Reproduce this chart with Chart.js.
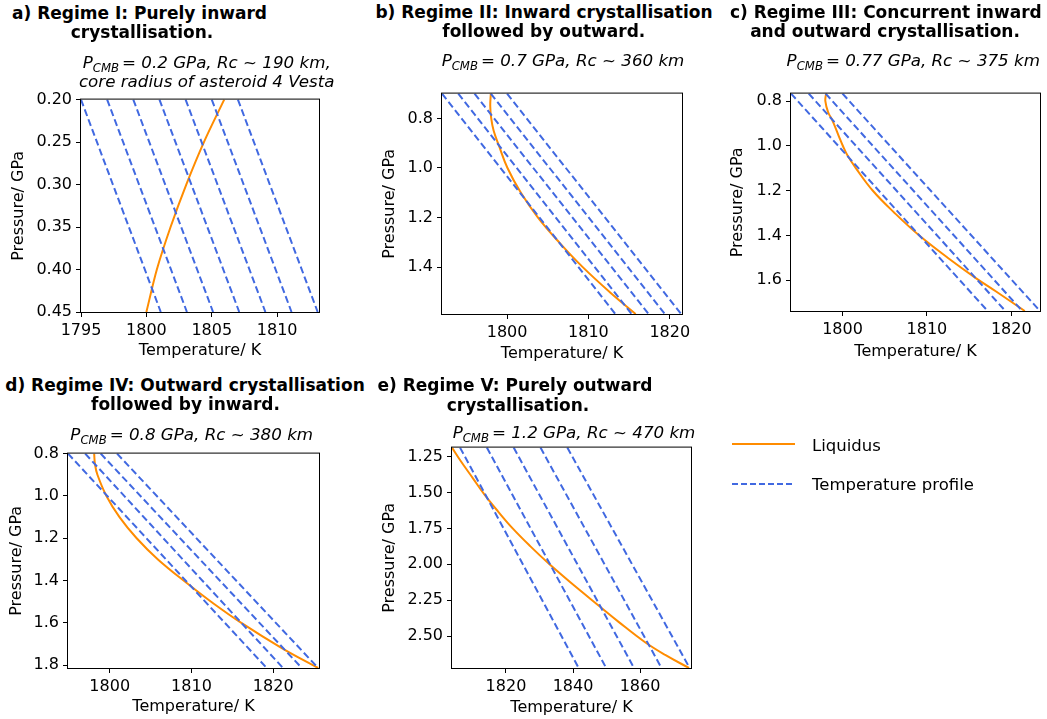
<!DOCTYPE html>
<html><head><meta charset="utf-8">
<script src="https://cdn.jsdelivr.net/npm/chart.js@4.4.1/dist/chart.umd.min.js"></script>
<style>
body{margin:0;background:#fff;width:1047px;height:719px;overflow:hidden;position:relative;font-family:"DejaVu Sans",sans-serif;color:#000}
canvas{position:absolute}
.t{position:absolute;width:500px;text-align:center;white-space:nowrap;font-weight:bold;font-size:17px;line-height:19px}
.s{position:absolute;width:500px;text-align:center;white-space:nowrap;font-style:italic;font-size:16.7px;line-height:19px}
.s sub{font-size:11.7px;vertical-align:-4px;line-height:0;margin-right:3px}
.lg{position:absolute;left:812px;font-size:16.5px;line-height:19px;white-space:nowrap}
</style></head>
<body>
<script>
// ---------- Data ----------
// a) Regime I
const A_LIQ_P = [0.20, 0.25, 0.30, 0.35, 0.40, 0.45];
const A_LIQ_T = [1805.95, 1804.4, 1803.05, 1801.85, 1800.8, 1800.0];
const A_PROF_P = [0.20, 0.45];
const A_PROF_T_TOP = [1795.0, 1797.0, 1799.0, 1801.0, 1803.0, 1805.0, 1807.0];
const A_PROF_T_BOT = [1801.1, 1803.1, 1805.1, 1807.1, 1809.1, 1811.1, 1813.1];
const A_XTICKS = [1795, 1800, 1805, 1810];
const A_YTICKS = ['0.20', '0.25', '0.30', '0.35', '0.40', '0.45'];

// b) Regime II
const B_LIQ_P = [0.70, 0.75, 0.80, 0.85, 0.91, 1.0, 1.1, 1.2, 1.3, 1.4, 1.5, 1.589];
const B_LIQ_T = [1798.0, 1797.93, 1798.05, 1798.35, 1799.0, 1800.05, 1801.7, 1803.8, 1806.4, 1809.3, 1812.6, 1815.8];
const B_PROF_P = [0.70, 1.589];
const B_PROF_T_TOP = [1792.0, 1794.0, 1796.0, 1798.0, 1800.0];
const B_PROF_T_BOT = [1813.3, 1815.3, 1817.4, 1819.4, 1821.4];
const B_XTICKS = [1800, 1810, 1820];
const B_YTICKS = ['0.8', '1.0', '1.2', '1.4'];

// c) Regime III
const C_LIQ_P = [0.766, 0.80, 0.85, 0.881, 0.95, 1.0, 1.043, 1.1, 1.2, 1.3, 1.4, 1.5, 1.59, 1.65, 1.737];
const C_LIQ_T = [1798.05, 1797.97, 1798.3, 1798.75, 1799.5, 1800.05, 1800.6, 1801.6, 1803.6, 1806.2, 1809.1, 1812.5, 1815.8, 1818.2, 1821.6];
const C_PROF_P = [0.766, 1.737];
const C_PROF_T_TOP = [1793.9, 1796.0, 1798.0, 1800.0];
const C_PROF_T_BOT = [1817.2, 1819.3, 1821.3, 1823.4];
const C_XTICKS = [1800, 1810, 1820];
const C_YTICKS = ['0.8', '1.0', '1.2', '1.4', '1.6'];

// d) Regime IV
const D_LIQ_P = [0.8, 0.85, 0.9, 1.0, 1.1, 1.2, 1.3, 1.42, 1.5, 1.6, 1.72, 1.813];
const D_LIQ_T = [1798.1, 1798.2, 1798.5, 1799.6, 1801.2, 1803.3, 1805.9, 1809.7, 1812.4, 1816.1, 1821.1, 1825.5];
const D_PROF_P = [0.8, 1.813];
const D_PROF_T_TOP = [1794.9, 1797.0, 1798.9, 1800.9];
const D_PROF_T_BOT = [1819.2, 1821.2, 1823.5, 1825.5];
const D_XTICKS = [1800, 1810, 1820];
const D_YTICKS = ['0.8', '1.0', '1.2', '1.4', '1.6', '1.8'];

// e) Regime V
const E_LIQ_P = [1.188, 1.285, 1.40, 1.515, 1.631, 1.75, 1.875, 2.0, 2.125, 2.29, 2.4, 2.54, 2.63, 2.721];
const E_LIQ_T = [1803.9, 1806.6, 1810.1, 1813.6, 1817.6, 1822.0, 1827.3, 1833.0, 1839.2, 1847.8, 1853.6, 1861.4, 1867.5, 1874.6];
const E_PROF_P = [1.188, 2.721];
const E_PROF_T_TOP = [1806.3, 1814.3, 1822.3, 1830.3, 1838.3];
const E_PROF_T_BOT = [1841.7, 1849.9, 1858.2, 1866.4, 1874.8];
const E_XTICKS = [1820, 1840, 1860];
const E_YTICKS = ['1.25', '1.50', '1.75', '2.00', '2.25', '2.50'];

const TITLES = [
  ['a) Regime I: Purely inward', 'crystallisation.'],
  ['b) Regime II: Inward crystallisation', 'followed by outward.'],
  ['c) Regime III: Concurrent inward', 'and outward crystallisation.'],
  ['d) Regime IV: Outward crystallisation', 'followed by inward.'],
  ['e) Regime V: Purely outward', 'crystallisation.']
];
const SUBTITLES = [
  ['= 0.2 GPa, Rc ~ 190 km,', 'core radius of asteroid 4 Vesta'],
  ['= 0.7 GPa, Rc ~ 360 km'],
  ['= 0.77 GPa, Rc ~ 375 km'],
  ['= 0.8 GPa, Rc ~ 380 km'],
  ['= 1.2 GPa, Rc ~ 470 km']
];
const LEGEND = ['Liquidus', 'Temperature profile'];

// ---------- Styles / layout ----------
const ORANGE = '#ff8c00', BLUE = '#4169e1';
Chart.defaults.font.family = '"DejaVu Sans", sans-serif';
Chart.defaults.color = '#000';

const frame = {
  id: 'frame',
  afterDraw(chart) {
    const {ctx, chartArea: a} = chart;
    ctx.save();
    ctx.strokeStyle = '#000';
    ctx.lineWidth = 1;
    ctx.strokeRect(a.left - 0.5, a.top - 0.5, a.right - a.left + 1, a.bottom - a.top + 1);
    ctx.restore();
  }
};

const PANELS = [
  {L:81, T:98, R:319, B:312, cl:0, pr:25, yt:18.5, xto:38.5, xmin:1795, xmax:1813.2, ymin:0.20, ymax:0.45,
   liqP:A_LIQ_P, liqT:A_LIQ_T, profP:A_PROF_P, topT:A_PROF_T_TOP, botT:A_PROF_T_BOT, xt:A_XTICKS, yl:A_YTICKS, ten:0.3},
  {L:442, T:92, R:682, B:314, cl:370, pr:25, yt:390, xto:39.5, xmin:1792.0, xmax:1821.5, ymin:0.70, ymax:1.589,
   liqP:B_LIQ_P, liqT:B_LIQ_T, profP:B_PROF_P, topT:B_PROF_T_TOP, botT:B_PROF_T_BOT, xt:B_XTICKS, yl:B_YTICKS, ten:0.4},
  {L:791, T:92, R:1040, B:311, cl:722, pr:7, yt:738.3, xto:40.5, xmin:1793.9, xmax:1823.4, ymin:0.766, ymax:1.737,
   liqP:C_LIQ_P, liqT:C_LIQ_T, profP:C_PROF_P, topT:C_PROF_T_TOP, botT:C_PROF_T_BOT, xt:C_XTICKS, yl:C_YTICKS, ten:0.4},
  {L:68, T:452, R:319, B:668, cl:0, pr:25, yt:17, xto:39, xmin:1794.9, xmax:1825.6, ymin:0.8, ymax:1.813,
   liqP:D_LIQ_P, liqT:D_LIQ_T, profP:D_PROF_P, topT:D_PROF_T_TOP, botT:D_PROF_T_BOT, xt:D_XTICKS, yl:D_YTICKS, ten:0.4},
  {L:452, T:446, R:691, B:668, cl:370, pr:25, yt:390, xto:40, xmin:1803.9, xmax:1875.2, ymin:1.188, ymax:2.721,
   liqP:E_LIQ_P, liqT:E_LIQ_T, profP:E_PROF_P, topT:E_PROF_T_TOP, botT:E_PROF_T_BOT, xt:E_XTICKS, yl:E_YTICKS, ten:0.4}
];

// title / subtitle placement: [center x, top]
const TITLE_POS = [
  [[139.5, 3.6], [142, 22.6]],
  [[544, 3.1], [543.8, 22.1]],
  [[885.8, 2.9], [885, 21.9]],
  [[185, 376.3], [185.5, 394.6]],
  [[515, 376.3], [518, 395.6]]
];
const SUB_POS = [
  [[206.7, 52.7], [206.7, 71.7]],
  [[563, 51.4]],
  [[913.3, 51.4]],
  [[191.7, 424.7]],
  [[574, 423]]
];

function addDiv(cls, html, cx, top) {
  const d = document.createElement('div');
  d.className = cls;
  d.innerHTML = html;
  d.style.left = (cx - 250) + 'px';
  d.style.top = top + 'px';
  document.body.appendChild(d);
}

const PT = 12, XH = 52;
PANELS.forEach((o, k) => {
  const YW = o.L - o.cl;
  const w = YW + (o.R - o.L) + o.pr, h = PT + (o.B - o.T) + XH;
  const cv = document.createElement('canvas');
  cv.width = w; cv.height = h;
  cv.style.left = o.cl + 'px'; cv.style.top = (o.T - PT) + 'px';
  cv.style.width = w + 'px'; cv.style.height = h + 'px';
  document.body.appendChild(cv);

  const datasets = [{
    label: LEGEND[0],
    data: o.liqT.map((t, i) => ({x: t, y: o.liqP[i]})),
    showLine: true, borderColor: ORANGE, backgroundColor: ORANGE, borderWidth: 2,
    pointRadius: 0, tension: o.ten, order: 2
  }];
  o.topT.forEach((t, i) => datasets.push({
    label: LEGEND[1],
    data: [{x: t, y: o.profP[0]}, {x: o.botT[i], y: o.profP[1]}],
    showLine: true, borderColor: BLUE, backgroundColor: BLUE, borderWidth: 2,
    borderDash: [7, 3.5], pointRadius: 0, order: 1
  }));

  const yVals = o.yl.map(parseFloat);
  new Chart(cv, {
    type: 'scatter',
    data: {datasets},
    plugins: [frame],
    options: {
      responsive: false, animation: false, devicePixelRatio: 1,
      layout: {padding: {top: PT, right: o.pr, left: 0, bottom: 0}},
      plugins: {legend: {display: false}, tooltip: {enabled: false}, title: {display: false}},
      scales: {
        x: {
          type: 'linear', position: 'bottom', min: o.xmin, max: o.xmax,
          afterBuildTicks: s => { s.ticks = o.xt.map(v => ({value: v})); },
          afterFit: s => { s.height = XH; },
          ticks: {font: {size: 16}, color: '#000', padding: 4.5, maxRotation: 0, autoSkip: false,
                  callback: v => String(v)},
          grid: {display: true, drawOnChartArea: false, drawTicks: true, tickLength: 5, color: '#000', lineWidth: 1},
          border: {display: false},
          title: {display: true, text: 'Temperature/ K', font: {size: 16}, color: '#000',
                  padding: {top: 0, bottom: XH - o.xto - 9.6}}
        },
        y: {
          type: 'linear', position: 'left', reverse: true, min: o.ymin, max: o.ymax,
          afterBuildTicks: s => { s.ticks = yVals.map(v => ({value: v})); },
          afterFit: s => { s.width = YW; },
          ticks: {font: {size: 16}, color: '#000', padding: 4, autoSkip: false,
                  callback: (v, i) => o.yl[i]},
          grid: {display: true, drawOnChartArea: false, drawTicks: true, tickLength: 5, color: '#000', lineWidth: 1},
          border: {display: false},
          title: {display: true, text: 'Pressure/ GPa', font: {size: 16}, color: '#000',
                  padding: {top: o.yt - o.cl - 9.6, bottom: 0}}
        }
      }
    }
  });

  TITLES[k].forEach((txt, j) => addDiv('t', txt, TITLE_POS[k][j][0], TITLE_POS[k][j][1]));
  SUBTITLES[k].forEach((txt, j) => {
    const html = j === 0 ? '<i>P<sub>CMB</sub></i>' + txt : txt;
    addDiv('s', html, SUB_POS[k][j][0], SUB_POS[k][j][1]);
  });
});

// legend
(function () {
  const l1 = document.createElement('div');
  l1.style.cssText = 'position:absolute;left:732px;top:443px;width:63px;height:2px;background:' + ORANGE;
  document.body.appendChild(l1);
  const l2 = document.createElement('div');
  l2.style.cssText = 'position:absolute;left:732px;top:482.5px;width:63px;height:2px;background:repeating-linear-gradient(to right,' + BLUE + ' 0 6px, transparent 6px 9px)';
  document.body.appendChild(l2);
  const t1 = document.createElement('div'); t1.className = 'lg'; t1.style.top = '435.5px'; t1.textContent = LEGEND[0];
  const t2 = document.createElement('div'); t2.className = 'lg'; t2.style.top = '474.8px'; t2.textContent = LEGEND[1];
  document.body.appendChild(t1); document.body.appendChild(t2);
})();
</script>
</body></html>
